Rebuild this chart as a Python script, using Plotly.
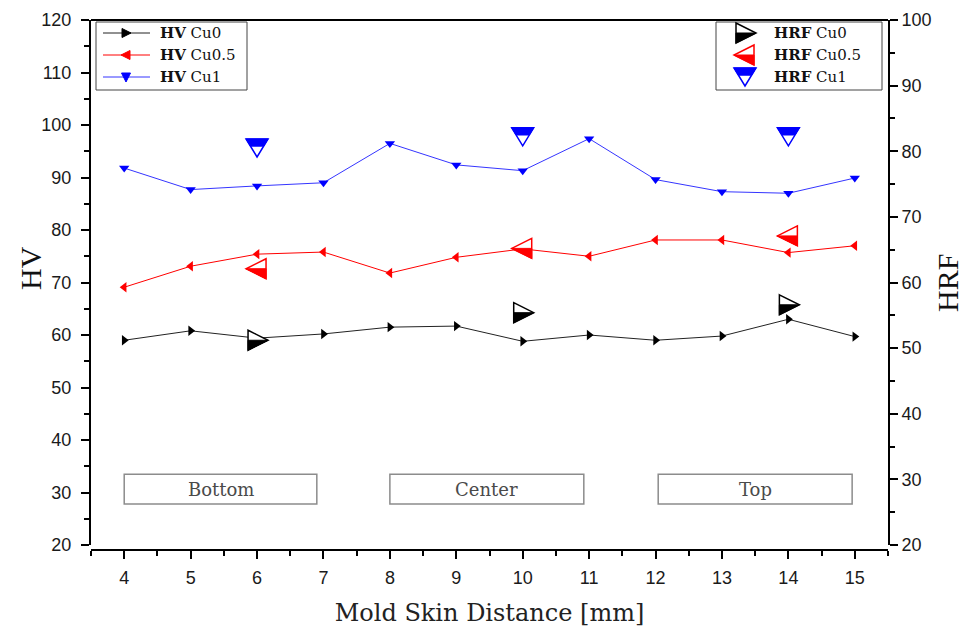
import plotly.graph_objects as go

# Vickers hardness (HV) along the mold skin distance
distance = [4, 5, 6, 7, 8, 9, 10, 11, 12, 13, 14, 15]
hv_cu0 = [59.0, 60.8, 59.4, 60.2, 61.5, 61.7, 58.8, 60.0, 59.0, 59.8, 63.0, 59.7]
hv_cu05 = [69.1, 73.1, 75.4, 75.8, 71.8, 74.8, 76.4, 75.0, 78.1, 78.1, 75.7, 77.0]
hv_cu1 = [91.8, 87.7, 88.4, 89.0, 96.5, 92.4, 91.3, 97.4, 89.6, 87.3, 87.0, 89.9]

# Rockwell F hardness (HRF) at the three zones
hrf_distance = [6, 10, 14]
hrf_cu0 = [51.2, 55.4, 56.6]
hrf_cu05 = [62.1, 65.2, 67.1]
hrf_cu1 = [80.5, 82.2, 82.2]

# zone labels: name, x-start, x-end
zones = [("Bottom", 4.0, 6.9), ("Center", 8.0, 10.92), ("Top", 12.04, 14.96)]
zone_y = (27.8, 33.5)

BLACK, RED, BLUE = "#000000", "#ff0000", "#0000ff"
SERIF = "DejaVu Serif"
SANS = "Liberation Sans"

W, H = 963, 627
ML, MR, MT, MB = 91, 75, 20, 77
PW, PH = W - ML - MR, H - MT - MB


def px_x(px):
    return (px - ML) / PW


def px_y(py):
    return (H - MB - py) / PH


fig = go.Figure()

hv_series = [
    ("Cu0", hv_cu0, BLACK, "#222222", "triangle-right", "right"),
    ("Cu0.5", hv_cu05, RED, RED, "triangle-left", "left"),
    ("Cu1", hv_cu1, BLUE, "#3535ff", "triangle-down", "down"),
]
for name, vals, mcol, lcol, sym, _ in hv_series:
    fig.add_trace(go.Scatter(
        x=distance, y=vals, mode="lines+markers",
        name=f"HV {name}", showlegend=False,
        line=dict(color=lcol, width=1),
        marker=dict(symbol=sym, size=9, color=mcol),
    ))

# marker geometry as pixel offsets (y up): full outline, filled half
tri = {
    "right": ("M -9,10 L 11,0 L -9,-10 Z", "M -9,0 L 11,0 L -9,-10 Z"),
    "left": ("M 9,10 L -11,0 L 9,-10 Z", "M 9,0 L -11,0 L 9,-10 Z"),
    "down": ("M -11,9 L 11,9 L 0,-9 Z", "M -11,9 L 11,9 L 6.6,1.8 L -6.6,1.8 Z"),
}
small_tri = {
    "right": "M -4,4.5 L 5,0 L -4,-4.5 Z",
    "left": "M 4,4.5 L -5,0 L 4,-4.5 Z",
    "down": "M -4.5,4 L 4.5,4 L 0,-5 Z",
}

hrf_series = [
    ("Cu0", hrf_cu0, BLACK, "right"),
    ("Cu0.5", hrf_cu05, RED, "left"),
    ("Cu1", hrf_cu1, BLUE, "down"),
]

shapes = []
annotations = []


def half_marker(xa, ya, xref, yref, color, kind):
    outline, half = tri[kind]
    common = dict(type="path", xref=xref, yref=yref, xsizemode="pixel",
                  ysizemode="pixel", xanchor=xa, yanchor=ya, layer="above")
    shapes.append(dict(path=outline, fillcolor="white",
                       line=dict(color=color, width=1.5), **common))
    shapes.append(dict(path=half, fillcolor=color,
                       line=dict(color=color, width=1), **common))


for name, vals, col, kind in hrf_series:
    fig.add_trace(go.Scatter(
        x=hrf_distance, y=vals, mode="markers", yaxis="y2",
        name=f"HRF {name}", showlegend=False,
        marker=dict(size=18, color="rgba(0,0,0,0)"),
    ))
    for xv, yv in zip(hrf_distance, vals):
        half_marker(xv, yv, "x", "y2", col, kind)

# zone boxes
for label, x0, x1 in zones:
    shapes.append(dict(type="rect", xref="x", yref="y", x0=x0, x1=x1,
                       y0=zone_y[0], y1=zone_y[1],
                       line=dict(color="#8c8c8c", width=1.5), layer="below"))
    annotations.append(dict(x=(x0 + x1) / 2, y=sum(zone_y) / 2, xref="x", yref="y",
                            text=label, showarrow=False,
                            font=dict(family=SERIF, size=18, color="#4a4a4a")))

# top frame line
shapes.append(dict(type="line", xref="paper", yref="paper", x0=0, x1=1,
                   y0=1, y1=1, line=dict(color="black", width=2)))

legend_font = dict(family=SERIF, size=15, color="#111111")

# HV legend box
shapes.append(dict(type="rect", xref="paper", yref="paper",
                   x0=px_x(96), x1=px_x(247), y0=px_y(90), y1=px_y(22),
                   line=dict(color="#444444", width=1), fillcolor="white",
                   layer="above"))
for i, (name, vals, mcol, lcol, sym, kind) in enumerate(hv_series):
    ypix = 33 + 22 * i
    shapes.append(dict(type="line", xref="paper", yref="paper",
                       x0=px_x(103), x1=px_x(150), y0=px_y(ypix), y1=px_y(ypix),
                       line=dict(color=lcol, width=1), layer="above"))
    shapes.append(dict(type="path", xref="paper", yref="paper",
                       xsizemode="pixel", ysizemode="pixel",
                       xanchor=px_x(126), yanchor=px_y(ypix),
                       path=small_tri[kind], fillcolor=mcol,
                       line=dict(color=mcol, width=1), layer="above"))
    annotations.append(dict(x=px_x(158), y=px_y(ypix), xref="paper", yref="paper",
                            xanchor="left", yanchor="middle", showarrow=False,
                            text=f"<b>HV</b> {name}", font=legend_font))

# HRF legend box
shapes.append(dict(type="rect", xref="paper", yref="paper",
                   x0=px_x(716), x1=px_x(882), y0=px_y(90), y1=px_y(22),
                   line=dict(color="#444444", width=1), fillcolor="white",
                   layer="above"))
for i, (name, vals, col, kind) in enumerate(hrf_series):
    ypix = 33 + 22 * i
    half_marker(px_x(745), px_y(ypix), "paper", "paper", col, kind)
    annotations.append(dict(x=px_x(772), y=px_y(ypix), xref="paper", yref="paper",
                            xanchor="left", yanchor="middle", showarrow=False,
                            text=f"<b>HRF</b> {name}", font=legend_font))

# vertical axis titles
title_font = dict(family="Liberation Serif", size=30, color="#111111")
annotations.append(dict(x=px_x(30), y=px_y(268), xref="paper", yref="paper",
                        xanchor="center", yanchor="middle",
                        text="HV", textangle=-90, showarrow=False, font=title_font))
annotations.append(dict(x=px_x(947), y=px_y(283), xref="paper", yref="paper",
                        xanchor="center", yanchor="middle",
                        text="HRF", textangle=-90, showarrow=False, font=title_font))

axis_common = dict(
    showline=True, linecolor="black", linewidth=2,
    ticks="outside", ticklen=8, tickwidth=2, tickcolor="black",
    showgrid=False, zeroline=False, automargin=False,
    tickfont=dict(family=SANS, size=18, color="#1a1a1a"),
)

fig.update_layout(
    width=W, height=H,
    margin=dict(l=ML, r=MR, t=MT, b=MB),
    paper_bgcolor="white", plot_bgcolor="white",
    shapes=shapes, annotations=annotations,
    showlegend=False,
    xaxis=dict(
        range=[3.5, 15.5], anchor="free", position=0,
        tick0=4, dtick=1, ticklabelstandoff=3,
        minor=dict(dtick=0.5, ticklen=5, tickwidth=2, tickcolor="black", ticks="outside"),
        title=dict(text="Mold Skin Distance [mm]", standoff=18,
                   font=dict(family=SERIF, size=24, color="#222222")),
        **axis_common,
    ),
    yaxis=dict(
        range=[20, 120], domain=[5 / PH, 1], anchor="x",
        tick0=20, dtick=10, ticklabelstandoff=6,
        minor=dict(dtick=5, ticklen=5, tickwidth=2, tickcolor="black", ticks="outside"),
        **axis_common,
    ),
    yaxis2=dict(
        range=[20, 100], overlaying="y", side="right", anchor="x",
        tick0=20, dtick=10,
        minor=dict(dtick=5, ticklen=5, tickwidth=2, tickcolor="black", ticks="outside"),
        **axis_common,
    ),
)

fig.write_html("out.html")
